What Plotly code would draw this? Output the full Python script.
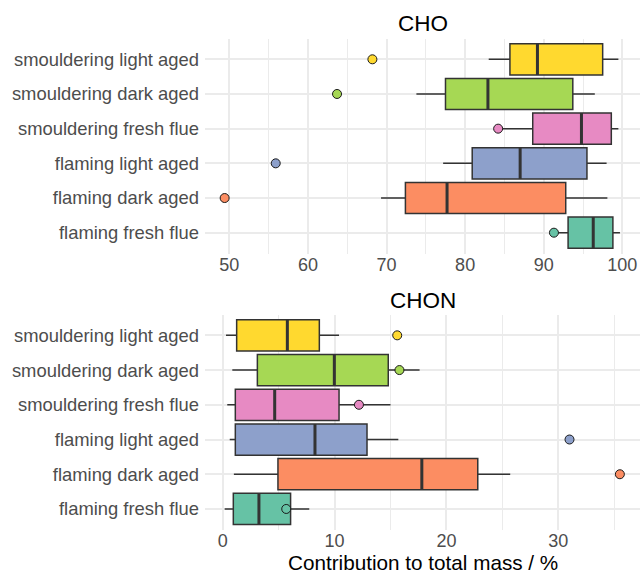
import plotly.graph_objects as go

categories = ["flaming fresh flue", "flaming dark aged", "flaming light aged",
              "smouldering fresh flue", "smouldering dark aged", "smouldering light aged"]
colors = ["#66C2A5", "#FC8D62", "#8DA0CB", "#E78AC3", "#A6D854", "#FFD92F"]

# CHO panel statistics
cho_low = [91.8, 69.3, 77.2, 84.4, 73.8, 83.0]
cho_q1 = [93.1, 72.4, 80.9, 88.6, 77.5, 85.7]
cho_med = [96.3, 77.7, 87.0, 94.8, 82.9, 89.2]
cho_q3 = [98.8, 92.8, 95.5, 98.6, 93.7, 97.5]
cho_high = [99.7, 98.1, 98.0, 99.5, 96.5, 99.5]
cho_out = [91.3, 49.4, 55.9, 84.2, 63.7, 68.2]

# CHON panel statistics
chon_low = [0.18, 1.0, 0.63, 0.41, 0.86, 0.3]
chon_q1 = [0.95, 4.94, 1.13, 1.13, 3.1, 1.25]
chon_med = [3.24, 17.8, 8.25, 4.65, 9.98, 5.78]
chon_q3 = [6.07, 22.8, 12.9, 10.4, 14.8, 8.64]
chon_high = [7.74, 25.7, 15.7, 15.0, 17.6, 10.4]
chon_out = [5.68, 35.5, 31.0, 12.18, 15.8, 15.6]

FONT = "Liberation Sans"
fig = go.Figure()
shapes = []

panels = [
    ("x", "y", cho_low, cho_q1, cho_med, cho_q3, cho_high, cho_out),
    ("x2", "y2", chon_low, chon_q1, chon_med, chon_q3, chon_high, chon_out),
]
for xa, ya, lo, q1, md, q3, hi, out in panels:
    for i, cat in enumerate(categories):
        fig.add_trace(go.Box(
            y=[cat], q1=[q1[i]], median=[md[i]], q3=[q3[i]],
            lowerfence=[lo[i]], upperfence=[hi[i]],
            orientation="h", fillcolor=colors[i],
            line=dict(color="#333333", width=1.5),
            whiskerwidth=0, width=0.9, boxpoints=False,
            xaxis=xa, yaxis=ya, showlegend=False, hoverinfo="skip",
        ))
        shapes.append(dict(type="line", xref=xa, yref=ya,
                           x0=md[i], x1=md[i], y0=i - 0.45, y1=i + 0.45,
                           line=dict(color="#333333", width=3)))
    fig.add_trace(go.Scatter(
        x=out, y=categories, mode="markers",
        marker=dict(size=9, color=colors, line=dict(color="#1a1a1a", width=1)),
        xaxis=xa, yaxis=ya, showlegend=False, hoverinfo="skip",
    ))

xcommon = dict(domain=[205 / 640, 1.0], showgrid=True, gridcolor="#EBEBEB", gridwidth=1.6,
               zeroline=False, showline=False, ticks="", ticklabelstandoff=-2,
               tickfont=dict(family=FONT, size=18, color="#4D4D4D"))
ycommon = dict(type="category", categoryorder="array", categoryarray=categories,
               range=[-0.6, 5.6], showgrid=True, gridcolor="#EBEBEB", gridwidth=1.6,
               zeroline=False, showline=False, ticks="", ticklabelstandoff=5,
               tickfont=dict(family=FONT, size=18.4, color="#4D4D4D"))

fig.update_layout(
    width=640, height=574,
    margin=dict(l=0, r=0, t=0, b=0),
    plot_bgcolor="white", paper_bgcolor="white",
    xaxis=dict(**xcommon, anchor="y", range=[46.9, 102.25], tickvals=[50, 60, 70, 80, 90, 100],
               minor=dict(showgrid=True, gridcolor="#EBEBEB", gridwidth=0.8, tickvals=[55, 65, 75, 85, 95])),
    yaxis=dict(**ycommon, anchor="x", domain=[1 - 253.5 / 574, 1 - 38.5 / 574]),
    xaxis2=dict(**xcommon, anchor="y2", range=[-1.58, 37.3], tickvals=[0, 10, 20, 30],
                minor=dict(showgrid=True, gridcolor="#EBEBEB", gridwidth=0.8, tickvals=[5, 15, 25, 35])),
    yaxis2=dict(**ycommon, anchor="x2", domain=[1 - 529.8 / 574, 1 - 314.5 / 574]),
    shapes=shapes,
    annotations=[
        dict(text="CHO", xref="paper", yref="paper", x=0.6602, y=1 - 23 / 574,
             xanchor="center", yanchor="middle", showarrow=False,
             font=dict(family=FONT, size=22.5, color="black")),
        dict(text="CHON", xref="paper", yref="paper", x=0.6602, y=1 - 300 / 574,
             xanchor="center", yanchor="middle", showarrow=False,
             font=dict(family=FONT, size=22.5, color="black")),
        dict(text="Contribution to total mass / %", xref="paper", yref="paper",
             x=0.6602, y=0, xanchor="center", yanchor="bottom", showarrow=False,
             yshift=-1, borderpad=0,
             font=dict(family=FONT, size=20.7, color="black")),
    ],
)

fig.write_html("out.html", config={"displayModeBar": False},
               post_script="document.body.style.margin='0px';document.body.style.overflow='hidden';")
